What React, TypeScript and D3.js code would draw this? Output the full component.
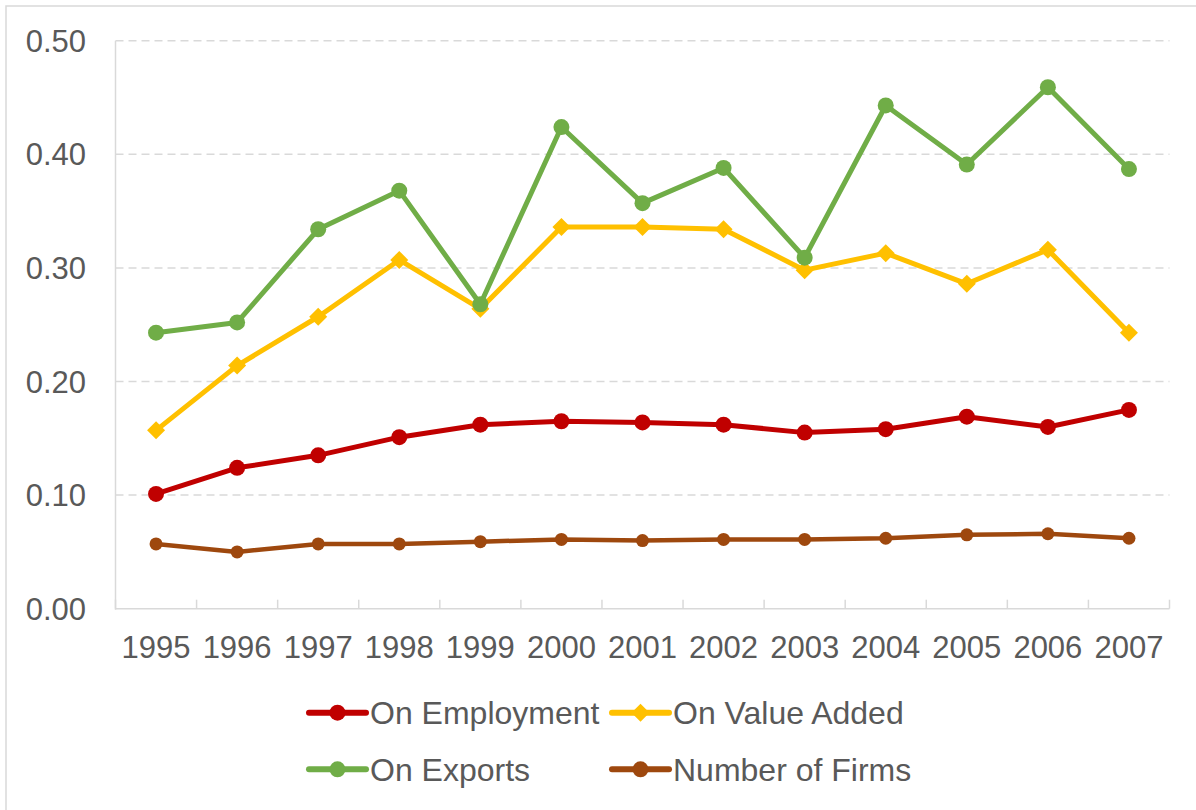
import React from "react";
import * as d3 from "d3";

const years = ["1995","1996","1997","1998","1999","2000","2001","2002","2003","2004","2005","2006","2007"];
const onEmployment = [0.101,0.124,0.135,0.151,0.162,0.165,0.164,0.162,0.155,0.158,0.169,0.160,0.175];
const onValueAdded = [0.157,0.214,0.257,0.307,0.264,0.336,0.336,0.334,0.298,0.313,0.286,0.316,0.243];
const onExports = [0.243,0.252,0.334,0.368,0.268,0.424,0.357,0.388,0.309,0.443,0.391,0.459,0.387];
const numberOfFirms = [0.057,0.050,0.057,0.057,0.059,0.061,0.060,0.061,0.061,0.062,0.065,0.066,0.062];
const yTicks = [0, 0.1, 0.2, 0.3, 0.4, 0.5];

type Series = { name: string; values: number[]; color: string; marker: "circle" | "diamond"; width: number; r: number };
const series: Series[] = [
  { name: "Number of Firms", values: numberOfFirms, color: "#9E480E", marker: "circle", width: 4.5, r: 6.5 },
  { name: "On Employment", values: onEmployment, color: "#C00000", marker: "circle", width: 5, r: 8 },
  { name: "On Value Added", values: onValueAdded, color: "#FFC000", marker: "diamond", width: 5, r: 9 },
  { name: "On Exports", values: onExports, color: "#70AD47", marker: "circle", width: 5, r: 8 },
];
const legendOrder = ["On Employment", "On Value Added", "On Exports", "Number of Firms"];

const W = 1196, H = 810;
const left = 115.5, right = 1169.5, top = 40.7, bottom = 608.7;
const textColor = "#595959";
const gridColor = "#D9D9D9";
const font = "'Liberation Sans', Arial, sans-serif";

function Marker({ kind, x, y, r, color }: { kind: string; x: number; y: number; r: number; color: string }) {
  if (kind === "diamond") {
    return <path d={`M${x},${y - r}L${x + r},${y}L${x},${y + r}L${x - r},${y}Z`} fill={color} />;
  }
  return <circle cx={x} cy={y} r={r} fill={color} />;
}

export default function App() {
  const x = d3.scaleBand<string>().domain(years).range([left, right]);
  const y = d3.scaleLinear().domain([0, 0.5]).range([bottom, top]);
  const cx = (yr: string) => (x(yr) as number) + x.bandwidth() / 2;
  const line = d3.line<number>().x((_, i) => cx(years[i])).y((v) => y(v));
  const tickXs = years.map((yr) => x(yr) as number).concat([right]);

  const legendPos = [
    { lx: 309, ly: 712.7 },
    { lx: 612, ly: 712.7 },
    { lx: 309, ly: 769.3 },
    { lx: 612, ly: 769.3 },
  ];

  return (
    <svg width={W} height={H} style={{ position: "absolute", left: 0, top: 0, background: "#fff" }} fontFamily={font}>
      <rect x={6} y={6} width={1300} height={900} fill="#fff" stroke={gridColor} strokeWidth={1.5} />
      {yTicks.slice(1).map((t) => (
        <line key={t} x1={left} x2={right} y1={y(t)} y2={y(t)} stroke={gridColor} strokeWidth={1.5} strokeDasharray="8,5" />
      ))}
      <line x1={left} x2={left} y1={top} y2={bottom + 1} stroke={gridColor} strokeWidth={1.5} />
      <line x1={left} x2={right} y1={bottom} y2={bottom} stroke={gridColor} strokeWidth={1.5} />
      {tickXs.map((tx, i) => (
        <line key={i} x1={tx} x2={tx} y1={bottom} y2={bottom - 9} stroke={gridColor} strokeWidth={1.5} />
      ))}
      {yTicks.map((t) => (
        <text key={t} x={86} y={y(t)} dy="0.36em" textAnchor="end" fontSize={31} fill={textColor}>
          {d3.format(".2f")(t)}
        </text>
      ))}
      {years.map((yr) => (
        <text key={yr} x={cx(yr)} y={658} textAnchor="middle" fontSize={31} fill={textColor}>
          {yr}
        </text>
      ))}
      {series.map((s) => (
        <g key={s.name}>
          <path d={line(s.values) as string} fill="none" stroke={s.color} strokeWidth={s.width} strokeLinejoin="round" />
          {s.values.map((v, i) => (
            <Marker key={i} kind={s.marker} x={cx(years[i])} y={y(v)} r={s.r} color={s.color} />
          ))}
        </g>
      ))}
      {legendOrder.map((name, i) => {
        const s = series.find((d) => d.name === name)!;
        const p = legendPos[i];
        return (
          <g key={name}>
            <line x1={p.lx} x2={p.lx + 57} y1={p.ly} y2={p.ly} stroke={s.color} strokeWidth={6} strokeLinecap="round" />
            <Marker kind={s.marker} x={p.lx + 28.5} y={p.ly} r={s.marker === "diamond" ? 9 : 8} color={s.color} />
            <text x={p.lx + 61} y={p.ly + 11.5} fontSize={32} fill={textColor}>
              {name}
            </text>
          </g>
        );
      })}
    </svg>
  );
}
